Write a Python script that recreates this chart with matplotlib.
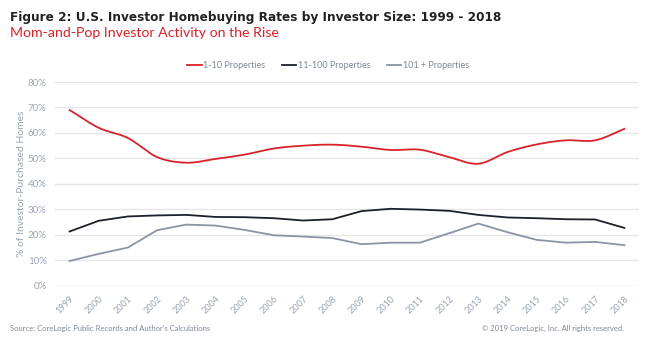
"""Recreate CoreLogic investor homebuying rates chart."""

import matplotlib
matplotlib.use("Agg")
import matplotlib.pyplot as plt
import numpy as np
from matplotlib.ticker import PercentFormatter

years = [str(y) for y in range(1999, 2019)]
small_investors = [69.0, 62.0, 58.0, 50.5, 48.3, 49.8, 51.5, 53.9, 55.0, 55.4,
                   54.6, 53.3, 53.4, 50.5, 47.9, 52.5, 55.5, 57.1, 57.1, 61.6]
mid_investors = [21.3, 25.5, 27.2, 27.6, 27.8, 27.0, 26.9, 26.5, 25.6, 26.1,
                 29.3, 30.2, 29.9, 29.4, 27.8, 26.8, 26.5, 26.1, 26.0, 22.7]
large_investors = [9.7, 12.5, 15.0, 21.8, 24.0, 23.6, 21.9, 19.8, 19.3, 18.7,
                   16.3, 16.9, 16.9, 20.6, 24.4, 21.0, 18.0, 16.9, 17.2, 15.9]

RED = "#d8232a"
BLACK = "#1b202b"
GRAY = "#8a94a2"
TICK = "#9aa4b3"


def smooth(values, steps=20):
    """Catmull-Rom curve through the points, like Excel's smoothed line."""
    p = np.asarray(values, dtype=float)
    x = np.arange(len(p), dtype=float)
    pp = np.concatenate([[2 * p[0] - p[1]], p, [2 * p[-1] - p[-2]]])
    xs, ys = [], []
    t = np.linspace(0, 1, steps, endpoint=False)
    for i in range(len(p) - 1):
        p0, p1, p2, p3 = pp[i], pp[i + 1], pp[i + 2], pp[i + 3]
        y = 0.5 * ((2 * p1) + (-p0 + p2) * t + (2 * p0 - 5 * p1 + 4 * p2 - p3) * t ** 2
                   + (-p0 + 3 * p1 - 3 * p2 + p3) * t ** 3)
        xs.append(x[i] + t)
        ys.append(y)
    xs.append([x[-1]])
    ys.append([p[-1]])
    return np.concatenate(xs), np.concatenate(ys)


plt.rcParams["font.family"] = ["Lato", "DejaVu Sans"]

fig = plt.figure(figsize=(6.5, 3.44), dpi=100)
ax = fig.add_axes([0.0846, 0.1695, 0.8984, 0.5921])

xs, ys = smooth(small_investors)
ax.plot(xs, ys, color=RED, lw=1.3, label="1-10 Properties")
ax.plot(range(len(years)), mid_investors, color=BLACK, lw=1.3, label="11-100 Properties")
ax.plot(range(len(years)), large_investors, color=GRAY, lw=1.3, label="101 + Properties")

ax.set_xlim(-0.5, len(years) - 0.5)
ax.set_ylim(0, 80)
ax.set_yticks(range(0, 81, 10))
ax.yaxis.set_major_formatter(PercentFormatter(decimals=0))
ax.set_xticks(range(len(years)))
ax.set_xticklabels(years, rotation=45, ha="right", rotation_mode="anchor")
ax.tick_params(axis="both", length=0, colors=TICK)
ax.tick_params(axis="x", pad=6, labelsize=6.5)
ax.tick_params(axis="y", pad=6, labelsize=7)
ax.grid(axis="y", color="#e6e6e6", lw=1)
ax.set_axisbelow(True)
for side in ax.spines.values():
    side.set_visible(False)

ax.set_ylabel("% of Investor-Purchased Homes", fontsize=7.5, color=TICK, labelpad=1)

fig.legend(loc="center", bbox_to_anchor=(0.505, 0.81), ncol=3, frameon=False,
           fontsize=6.5, labelcolor="#7f8896", handlelength=1.6, handletextpad=0.2,
           columnspacing=1.8)

fig.text(0.015, 0.948, "Figure 2: U.S. Investor Homebuying Rates by Investor Size: 1999 - 2018",
         fontsize=8.7, fontweight="bold", color="#222222", va="center", family="DejaVu Sans")
fig.text(0.015, 0.905, "Mom-and-Pop Investor Activity on the Rise",
         fontsize=10.2, color=RED, va="center")
fig.text(0.015, 0.045, "Source: CoreLogic Public Records and Author's Calculations",
         fontsize=5.5, color="#7f8896", va="center")
fig.text(0.96, 0.045, "\u00a9 2019 CoreLogic, Inc. All rights reserved.",
         fontsize=5.5, color="#7f8896", va="center", ha="right")

fig.savefig("out.png", dpi=100)
